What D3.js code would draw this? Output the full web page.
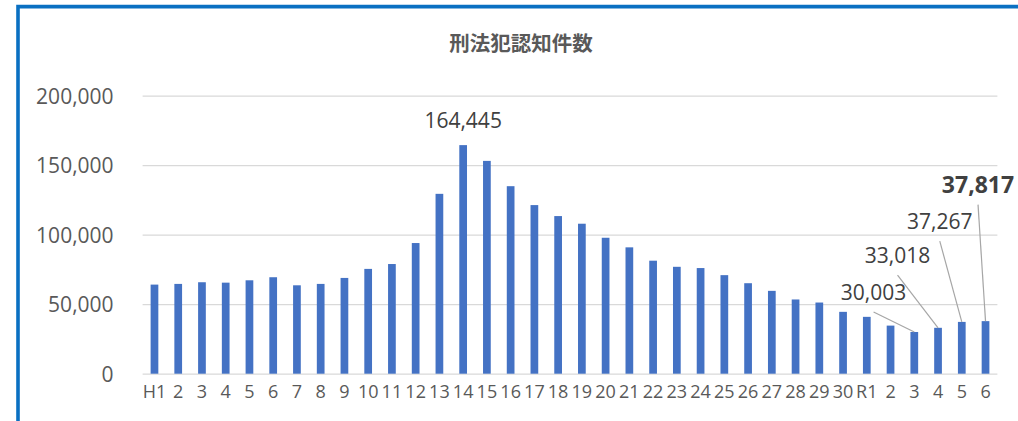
<!DOCTYPE html>
<html>
<head>
<meta charset="utf-8">
<script src="https://cdn.jsdelivr.net/npm/d3@7"></script>
<style>
  html, body { margin: 0; padding: 0; background: #fff; }
  svg { display: block; }
</style>
</head>
<body>
<svg id="chart" width="1018" height="421"></svg>
<script>
const title = "刑法犯認知件数";
const categories = ["H1","2","3","4","5","6","7","8","9","10","11","12","13","14","15","16","17","18","19","20","21","22","23","24","25","26","27","28","29","30","R1","2","3","4","5","6"];
const values = [64100,64600,65800,65500,67200,69400,63600,64600,68900,75400,78900,94000,129400,164445,153100,134900,121300,113400,107900,97800,90900,81300,76900,76000,70900,65100,59600,53400,51200,44500,40900,34600,30003,33018,37267,37817];
const yTicks = [0, 50000, 100000, 150000, 200000];
// indices of bars that carry a data label
const labelled = [13, 32, 33, 34, 35];

const W = 1018, H = 421;
const margin = { left: 142.6, right: 20.6, top: 95.7, bottom: 47.3 };
const svg = d3.select("#chart");

const x = d3.scaleBand().domain(d3.range(categories.length))
  .range([margin.left, W - margin.right]).paddingInner(0.675).paddingOuter(0.3375);
const y = d3.scaleLinear().domain([0, 200000]).range([H - margin.bottom, margin.top]);

// frame
svg.append("path")
  .attr("d", `M18,${H} V6.6 H${W}`)
  .attr("fill", "none").attr("stroke", "#0a70c2").attr("stroke-width", 3.6);

// title
svg.append("text")
  .attr("x", 521).attr("y", 50.5)
  .attr("text-anchor", "middle")
  .attr("font-family", "'Noto Sans CJK JP', sans-serif")
  .attr("font-weight", "bold").attr("font-size", 20.5)
  .attr("fill", "#595959")
  .text(title);

// gridlines + y axis
const yAxis = d3.axisLeft(y).tickValues(yTicks)
  .tickSize(-(W - margin.left - margin.right))
  .tickPadding(29)
  .tickFormat(d3.format(","));
const gy = svg.append("g").attr("transform", `translate(${margin.left},0)`).call(yAxis);
gy.select(".domain").remove();
gy.selectAll(".tick line").attr("stroke", "#d9d9d9").attr("stroke-width", 1.3);
gy.selectAll(".tick text")
  .attr("font-family", "'Open Sans', sans-serif").attr("font-size", 21)
  .attr("fill", "#595959").attr("dy", "0.36em");

// bars
svg.append("g").selectAll("rect").data(values).join("rect")
  .attr("x", (d, i) => x(i))
  .attr("width", x.bandwidth())
  .attr("y", d => y(d))
  .attr("height", d => y(0) - y(d))
  .attr("fill", "#4472c4");

// x axis
const xAxis = d3.axisBottom(x).tickFormat(i => categories[i]).tickSize(0).tickPadding(17.5);
const gx = svg.append("g").attr("transform", `translate(0,${y(0)})`).call(xAxis);
gx.select(".domain").remove();
gx.selectAll(".tick text")
  .attr("font-family", "'Open Sans', sans-serif").attr("font-size", 18)
  .attr("fill", "#595959").attr("dy", "0.36em");

// data labels (offset relative to bar top centre)
const labelStyle = {
  13: { dx: 0, dy: -17, size: 21, bold: false, leader: false },
  32: { dx: -40.7, dy: -32, size: 21, bold: false, leader: true },
  33: { dx: -40.5, dy: -64.7, size: 21, bold: false, leader: true },
  34: { dx: -22, dy: -92.8, size: 21, bold: false, leader: true },
  35: { dx: -7.5, dy: -128.5, size: 23, bold: true, leader: true }
};
const fmt = d3.format(",");
const lg = svg.append("g");
labelled.forEach(i => {
  const s = labelStyle[i];
  const cx = x(i) + x.bandwidth() / 2;
  const top = y(values[i]);
  if (s.leader) {
    lg.append("line")
      .attr("x1", cx + s.dx).attr("y1", top + s.dy + 12)
      .attr("x2", cx).attr("y2", top)
      .attr("stroke", "#a6a6a6").attr("stroke-width", 1.2);
  }
  lg.append("text")
    .attr("x", cx + s.dx).attr("y", top + s.dy)
    .attr("text-anchor", "middle")
    .attr("font-family", "'Open Sans', sans-serif")
    .attr("font-size", s.size)
    .attr("font-weight", s.bold ? "bold" : "normal")
    .attr("fill", "#404040")
    .text(fmt(values[i]));
});
</script>
</body>
</html>
